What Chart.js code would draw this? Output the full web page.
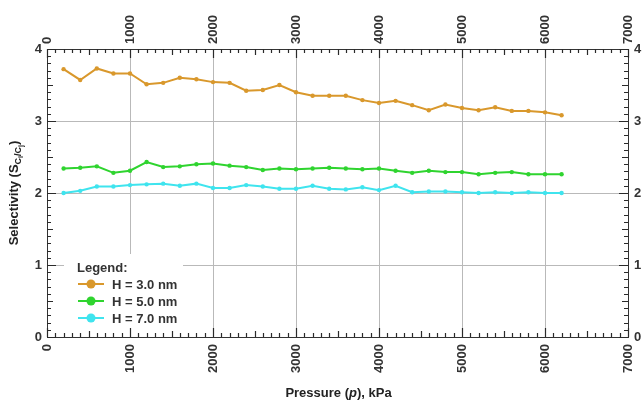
<!DOCTYPE html>
<html>
<head>
<meta charset="utf-8">
<script src="https://cdn.jsdelivr.net/npm/chart.js@4/dist/chart.umd.min.js"></script>
<style>
  html, body { margin: 0; padding: 0; background: #fff; }
  #wrap { width: 642px; height: 405px; }
</style>
</head>
<body>
<div id="wrap"><canvas id="chart" width="642" height="405"></canvas></div>
<script>
// Pressure steps (kPa)
const pressure = [200, 400, 600, 800, 1000, 1200, 1400, 1600, 1800, 2000,
                  2200, 2400, 2600, 2800, 3000, 3200, 3400, 3600, 3800, 4000,
                  4200, 4400, 4600, 4800, 5000, 5200, 5400, 5600, 5800, 6000, 6200];

// Selectivity for each pore width
const sel_H30 = [3.72, 3.57, 3.73, 3.66, 3.66, 3.51, 3.53, 3.60, 3.58, 3.54,
                 3.53, 3.42, 3.43, 3.50, 3.40, 3.35, 3.35, 3.35, 3.29, 3.25,
                 3.28, 3.22, 3.15, 3.23, 3.18, 3.15, 3.19, 3.14, 3.14, 3.12, 3.08];
const sel_H50 = [2.34, 2.35, 2.37, 2.28, 2.31, 2.43, 2.36, 2.37, 2.40, 2.41,
                 2.38, 2.36, 2.32, 2.34, 2.33, 2.34, 2.35, 2.34, 2.33, 2.34,
                 2.31, 2.28, 2.31, 2.29, 2.29, 2.26, 2.28, 2.29, 2.26, 2.26, 2.26];
const sel_H70 = [2.00, 2.03, 2.09, 2.09, 2.11, 2.12, 2.13, 2.10, 2.13, 2.07,
                 2.07, 2.11, 2.09, 2.06, 2.06, 2.10, 2.06, 2.05, 2.08, 2.04,
                 2.10, 2.01, 2.02, 2.02, 2.01, 2.00, 2.01, 2.00, 2.01, 2.00, 2.00];

const seriesNames = ['H = 3.0 nm', 'H = 5.0 nm', 'H = 7.0 nm'];
const seriesColors = ['#d9982c', '#2fd42f', '#3fe4ee'];

// Axis ranges and tick spacing
const xRange = [0, 7000];
const xMajor = 1000, xMid = 500, xMinor = 100;
const yRange = [0, 4];
const yMajor = 1, yMid = 0.5, yMinor = 0.1;

const FONT = '"Liberation Sans", Arial, sans-serif';
const tickFont = { family: FONT, size: 13, weight: 'bold', lineHeight: 1.2 };
const tickColor = '#333';

function makeSeries(vals) {
  return pressure.map((p, i) => ({ x: p, y: vals[i] }));
}

const datasets = [sel_H30, sel_H50, sel_H70].map((vals, i) => ({
  label: seriesNames[i],
  data: makeSeries(vals),
  borderColor: seriesColors[i],
  backgroundColor: seriesColors[i],
  borderWidth: 2,
  pointRadius: 2.2,
  pointHoverRadius: 2.2,
  pointBorderWidth: 0,
  tension: 0,
  xAxisID: 'x',
  yAxisID: 'y'
}));

const fmt = v => String(v);

// Length of an inward tick: long at major steps, medium at half steps, short otherwise
function tickLen(i, perMajor, perMid) {
  if (i % perMajor === 0) return 9;
  if (i % perMid === 0) return 6;
  return 4;
}

// Inward tick marks on all four sides
const tickMarks = {
  id: 'tickMarks',
  afterDraw(chart) {
    const ctx = chart.ctx;
    const a = chart.chartArea;
    const xs = chart.scales.x, ys = chart.scales.y;
    ctx.save();
    ctx.strokeStyle = '#2a2a2a';
    ctx.lineWidth = 1.2;
    ctx.beginPath();
    const nx = Math.round((xRange[1] - xRange[0]) / xMinor);
    const xPerMajor = Math.round(xMajor / xMinor), xPerMid = Math.round(xMid / xMinor);
    for (let i = 0; i <= nx; i++) {
      const px = Math.round(xs.getPixelForValue(xRange[0] + i * xMinor)) + 0.5;
      const L = tickLen(i, xPerMajor, xPerMid);
      ctx.moveTo(px, a.bottom); ctx.lineTo(px, a.bottom - L);
      ctx.moveTo(px, a.top); ctx.lineTo(px, a.top + L);
    }
    const ny = Math.round((yRange[1] - yRange[0]) / yMinor);
    const yPerMajor = Math.round(yMajor / yMinor), yPerMid = Math.round(yMid / yMinor);
    for (let i = 0; i <= ny; i++) {
      const py = Math.round(ys.getPixelForValue(yRange[0] + i * yMinor)) + 0.5;
      const L = tickLen(i, yPerMajor, yPerMid);
      ctx.moveTo(a.left, py); ctx.lineTo(a.left + L, py);
      ctx.moveTo(a.right, py); ctx.lineTo(a.right - L, py);
    }
    ctx.stroke();
    ctx.restore();
  }
};

// Inset legend with a white backing box
const insetLegend = {
  id: 'insetLegend',
  afterDraw(chart) {
    const ctx = chart.ctx;
    const a = chart.chartArea;
    const x0 = a.left + 17, y0 = a.bottom - 83;
    ctx.save();
    ctx.fillStyle = '#fff';
    ctx.fillRect(x0, y0, 119, 74);
    ctx.font = 'bold 13px ' + FONT;
    ctx.textBaseline = 'middle';
    ctx.fillStyle = '#333';
    ctx.fillText('Legend:', x0 + 13, y0 + 14);
    chart.data.datasets.forEach((ds, i) => {
      const cy = y0 + 30 + i * 17;
      ctx.strokeStyle = ds.borderColor;
      ctx.lineWidth = 2;
      ctx.beginPath();
      ctx.moveTo(x0 + 14, cy); ctx.lineTo(x0 + 40, cy);
      ctx.stroke();
      ctx.fillStyle = ds.borderColor;
      ctx.beginPath();
      ctx.arc(x0 + 27, cy, 4.5, 0, Math.PI * 2);
      ctx.fill();
      ctx.fillStyle = '#333';
      ctx.fillText(ds.label, x0 + 48, cy + 1);
    });
    ctx.restore();
  }
};

function drawParts(ctx, parts, cx, y) {
  let total = 0;
  parts.forEach(p => { ctx.font = p.f; p.w = ctx.measureText(p.t).width; total += p.w; });
  let x = cx - total / 2;
  parts.forEach(p => { ctx.font = p.f; ctx.fillText(p.t, x, y + p.dy); x += p.w; });
}

// Axis titles (with subscript / italic parts)
const axisTitles = {
  id: 'axisTitles',
  afterDraw(chart) {
    const ctx = chart.ctx;
    const a = chart.chartArea;
    ctx.save();
    ctx.fillStyle = '#222';
    ctx.textBaseline = 'alphabetic';
    drawParts(ctx, [
      { t: 'Pressure (', f: 'bold 13px ' + FONT, dy: 0 },
      { t: 'p', f: 'italic bold 13px ' + FONT, dy: 0 },
      { t: '), kPa', f: 'bold 13px ' + FONT, dy: 0 }
    ], (a.left + a.right) / 2 + 1, 397);
    ctx.translate(18, (a.top + a.bottom) / 2);
    ctx.rotate(-Math.PI / 2);
    drawParts(ctx, [
      { t: 'Selectivity (S', f: 'bold 13px ' + FONT, dy: 0 },
      { t: 'C', f: 'bold 9px ' + FONT, dy: 3 },
      { t: 'i', f: 'bold 7px ' + FONT, dy: 5 },
      { t: '/C', f: 'bold 9px ' + FONT, dy: 3 },
      { t: 'j', f: 'bold 7px ' + FONT, dy: 5 },
      { t: ')', f: 'bold 13px ' + FONT, dy: 0 }
    ], 0, 0);
    ctx.restore();
  }
};

const xTicksCommon = {
  stepSize: xMajor, autoSkip: false, minRotation: 90, maxRotation: 90,
  font: tickFont, color: tickColor, callback: fmt
};
const yTicksCommon = {
  stepSize: yMajor, autoSkip: false, font: tickFont, color: tickColor, callback: fmt
};
const border = { display: true, color: '#333', width: 1 };

// Fixed axis band sizes, no label overhang padding
function fitX(h) {
  return s => { s.height = h; s.paddingLeft = 0; s.paddingRight = 0; };
}
function fitY(w) {
  return s => { s.width = w; s.paddingTop = 0; s.paddingBottom = 0; };
}

new Chart(document.getElementById('chart'), {
  type: 'line',
  data: { datasets },
  options: {
    responsive: false,
    animation: false,
    layout: { padding: 0 },
    plugins: { legend: { display: false }, tooltip: { enabled: false } },
    scales: {
      x: {
        type: 'linear', position: 'bottom', min: xRange[0], max: xRange[1],
        grid: { color: '#b9b9b9', lineWidth: 1, drawTicks: false },
        border,
        ticks: { ...xTicksCommon, padding: 7 },
        afterFit: fitX(68)
      },
      x2: {
        type: 'linear', position: 'top', min: xRange[0], max: xRange[1],
        grid: { display: false, drawTicks: false },
        border,
        // rotated labels on a top axis sit one line height left of the tick
        ticks: { ...xTicksCommon, padding: 5, labelOffset: 15.6 },
        afterFit: fitX(49)
      },
      y: {
        type: 'linear', position: 'left', min: yRange[0], max: yRange[1],
        grid: { color: '#b9b9b9', lineWidth: 1, drawTicks: false },
        border,
        ticks: { ...yTicksCommon, padding: 5 },
        afterFit: fitY(47)
      },
      y2: {
        type: 'linear', position: 'right', min: yRange[0], max: yRange[1],
        grid: { display: false, drawTicks: false },
        border,
        ticks: { ...yTicksCommon, padding: 6 },
        afterFit: fitY(14)
      }
    }
  },
  plugins: [tickMarks, insetLegend, axisTitles]
});
</script>
</body>
</html>
